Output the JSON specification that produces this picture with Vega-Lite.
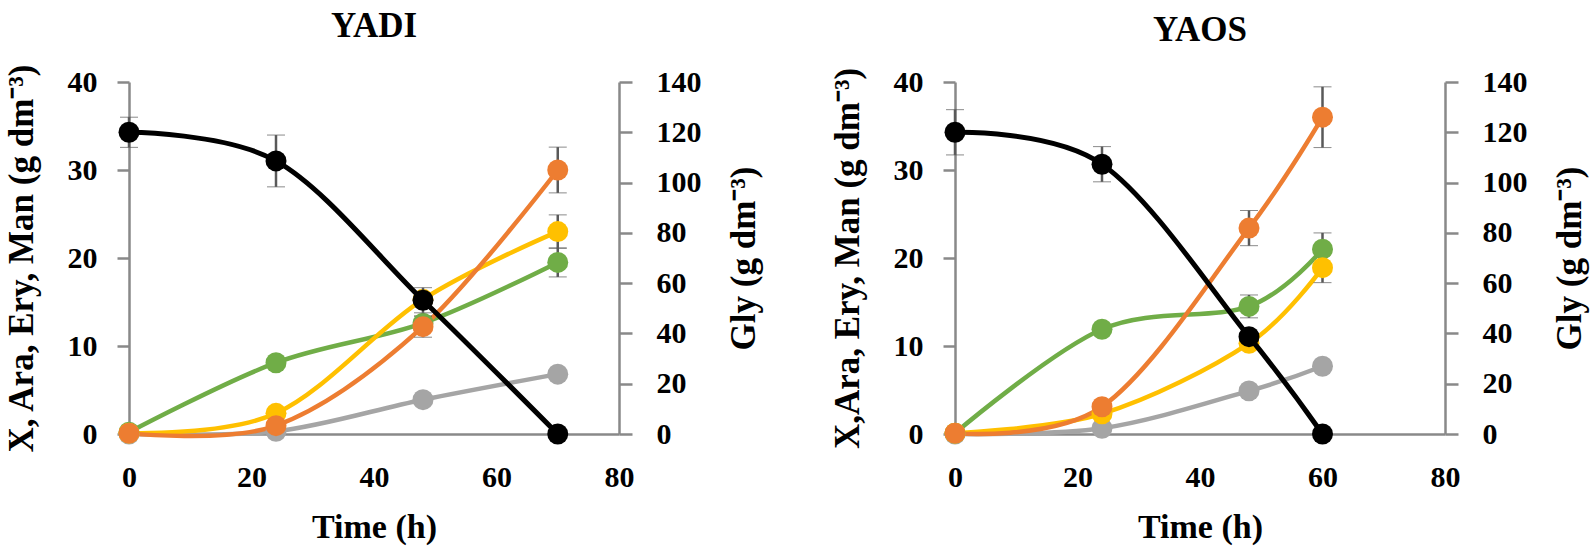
{
  "$schema": "https://vega.github.io/schema/vega-lite/v6.json",
  "autosize": {"type": "none"},
  "padding": {"left": 129, "top": 82, "right": 1465, "bottom": 467},
  "background": "white",
  "bounds": "flush",
  "spacing": 336,
  "data": {"values": [
    {"panel": "YADI", "series": "Ara", "t": 0, "v": 0, "err": 0},
    {"panel": "YADI", "series": "Ara", "t": 24, "v": 0.3, "err": 0},
    {"panel": "YADI", "series": "Ara", "t": 48, "v": 3.9, "err": 0},
    {"panel": "YADI", "series": "Ara", "t": 70, "v": 6.8, "err": 0},
    {"panel": "YADI", "series": "X", "t": 0, "v": 0.2, "err": 0},
    {"panel": "YADI", "series": "X", "t": 24, "v": 8.1, "err": 0},
    {"panel": "YADI", "series": "X", "t": 48, "v": 12.6, "err": 0.8},
    {"panel": "YADI", "series": "X", "t": 70, "v": 19.5, "err": 1.65},
    {"panel": "YADI", "series": "Man", "t": 0, "v": 0.1, "err": 0},
    {"panel": "YADI", "series": "Man", "t": 24, "v": 2.35, "err": 0},
    {"panel": "YADI", "series": "Man", "t": 48, "v": 15.3, "err": 0},
    {"panel": "YADI", "series": "Man", "t": 70, "v": 23.0, "err": 1.9},
    {"panel": "YADI", "series": "Ery", "t": 0, "v": 0.1, "err": 0},
    {"panel": "YADI", "series": "Ery", "t": 24, "v": 0.95, "err": 0},
    {"panel": "YADI", "series": "Ery", "t": 48, "v": 12.2, "err": 1.2},
    {"panel": "YADI", "series": "Ery", "t": 70, "v": 30.0, "err": 2.6},
    {"panel": "YADI", "series": "Gly", "t": 0, "v": 120, "err": 6},
    {"panel": "YADI", "series": "Gly", "t": 24, "v": 108.6, "err": 10.3},
    {"panel": "YADI", "series": "Gly", "t": 48, "v": 53.2, "err": 5},
    {"panel": "YADI", "series": "Gly", "t": 70, "v": 0, "err": 0},
    {"panel": "YAOS", "series": "Ara", "t": 0, "v": 0, "err": 0},
    {"panel": "YAOS", "series": "Ara", "t": 24, "v": 0.65, "err": 0},
    {"panel": "YAOS", "series": "Ara", "t": 48, "v": 4.9, "err": 0},
    {"panel": "YAOS", "series": "Ara", "t": 60, "v": 7.7, "err": 0},
    {"panel": "YAOS", "series": "X", "t": 0, "v": 0.1, "err": 0},
    {"panel": "YAOS", "series": "X", "t": 24, "v": 11.9, "err": 0},
    {"panel": "YAOS", "series": "X", "t": 48, "v": 14.5, "err": 1.3},
    {"panel": "YAOS", "series": "X", "t": 60, "v": 21.0, "err": 1.85},
    {"panel": "YAOS", "series": "Man", "t": 0, "v": 0.1, "err": 0},
    {"panel": "YAOS", "series": "Man", "t": 24, "v": 2.3, "err": 0},
    {"panel": "YAOS", "series": "Man", "t": 48, "v": 10.3, "err": 0},
    {"panel": "YAOS", "series": "Man", "t": 60, "v": 18.9, "err": 1.7},
    {"panel": "YAOS", "series": "Ery", "t": 0, "v": 0.1, "err": 0},
    {"panel": "YAOS", "series": "Ery", "t": 24, "v": 3.1, "err": 0},
    {"panel": "YAOS", "series": "Ery", "t": 48, "v": 23.4, "err": 2.0},
    {"panel": "YAOS", "series": "Ery", "t": 60, "v": 36.0, "err": 3.45},
    {"panel": "YAOS", "series": "Gly", "t": 0, "v": 120, "err": 9},
    {"panel": "YAOS", "series": "Gly", "t": 24, "v": 107.3, "err": 7},
    {"panel": "YAOS", "series": "Gly", "t": 48, "v": 38.7, "err": 0},
    {"panel": "YAOS", "series": "Gly", "t": 60, "v": 0, "err": 0}
  ]},
  "hconcat": [
    {
      "title": {"text": "YADI", "frame": "group", "fontSize": 35, "font": "Liberation Serif", "fontWeight": "bold", "offset": 19},
      "width": 490,
      "height": 352,
      "transform": [{"filter": "datum.panel === 'YADI'"}],
      "encoding": {
        "x": {"field": "t", "type": "quantitative", "scale": {"domain": [0, 80], "nice": false},
              "axis": {"values": [0, 20, 40, 60, 80], "ticks": false, "tickSize": 0, "labelFlush": false, "labelPadding": 28, "title": "Time (h)", "titlePadding": 18}}
      },
      "layer": [
        {
          "transform": [{"filter": "datum.series !== 'Gly'"}],
          "encoding": {
            "y": {"field": "v", "type": "quantitative", "scale": {"domain": [0, 40], "nice": false},
                  "axis": {"values": [0, 10, 20, 30, 40], "tickSize": 12, "labelPadding": 20, "title": "X, Ara, Ery, Man (g dm⁻³)", "titleFontSize": 35, "titlePadding": 28}}
          },
          "layer": [
            {"mark": {"type": "line", "interpolate": "cardinal", "strokeWidth": 4.5},
             "encoding": {"color": {"field": "series", "type": "nominal", "scale": {"domain": ["Ara", "X", "Man", "Ery", "Gly"], "range": ["#A5A5A5", "#70AD47", "#FFC000", "#ED7D31", "#000000"]}, "legend": null}}},
            {"transform": [{"filter": "datum.err > 0"}],
             "mark": {"type": "errorbar", "ticks": {"size": 18, "color": "#595959", "strokeWidth": 2.5}, "rule": {"color": "#595959", "strokeWidth": 2.5}},
             "encoding": {"yError": {"field": "err"}}},
            {"mark": {"type": "point", "filled": true, "size": 440, "opacity": 1},
             "encoding": {"color": {"field": "series", "type": "nominal", "scale": {"domain": ["Ara", "X", "Man", "Ery", "Gly"], "range": ["#A5A5A5", "#70AD47", "#FFC000", "#ED7D31", "#000000"]}, "legend": null}}}
          ]
        },
        {
          "transform": [{"filter": "datum.series === 'Gly'"}],
          "encoding": {
            "y": {"field": "v", "type": "quantitative", "scale": {"domain": [0, 140], "nice": false},
                  "axis": {"orient": "right", "values": [0, 20, 40, 60, 80, 100, 120, 140], "tickSize": 13, "labelPadding": 24, "title": "Gly (g dm⁻³)", "titleFontSize": 35, "titleAngle": 270, "titleBaseline": "top", "titlePadding": 25}}
          },
          "layer": [
            {"mark": {"type": "line", "interpolate": "cardinal", "strokeWidth": 5, "color": "#000000"}, "encoding": {}},
            {"transform": [{"filter": "datum.err > 0"}],
             "mark": {"type": "errorbar", "ticks": {"size": 18, "color": "#595959", "strokeWidth": 2.5}, "rule": {"color": "#595959", "strokeWidth": 2.5}},
             "encoding": {"yError": {"field": "err"}}},
            {"mark": {"type": "point", "filled": true, "size": 440, "opacity": 1, "color": "#000000"}, "encoding": {}}
          ]
        }
      ],
      "resolve": {"scale": {"y": "independent"}}
    },
    {
      "title": {"text": "YAOS", "frame": "group", "fontSize": 35, "font": "Liberation Serif", "fontWeight": "bold", "offset": 19},
      "width": 490,
      "height": 352,
      "transform": [{"filter": "datum.panel === 'YAOS'"}],
      "encoding": {
        "x": {"field": "t", "type": "quantitative", "scale": {"domain": [0, 80], "nice": false},
              "axis": {"values": [0, 20, 40, 60, 80], "ticks": false, "tickSize": 0, "labelFlush": false, "labelPadding": 28, "title": "Time (h)", "titlePadding": 18}}
      },
      "layer": [
        {
          "transform": [{"filter": "datum.series !== 'Gly'"}],
          "encoding": {
            "y": {"field": "v", "type": "quantitative", "scale": {"domain": [0, 40], "nice": false},
                  "axis": {"values": [0, 10, 20, 30, 40], "tickSize": 12, "labelPadding": 20, "title": "X,Ara, Ery, Man (g dm⁻³)", "titleFontSize": 35, "titlePadding": 28}}
          },
          "layer": [
            {"mark": {"type": "line", "interpolate": "cardinal", "strokeWidth": 4.5},
             "encoding": {"color": {"field": "series", "type": "nominal", "scale": {"domain": ["Ara", "X", "Man", "Ery", "Gly"], "range": ["#A5A5A5", "#70AD47", "#FFC000", "#ED7D31", "#000000"]}, "legend": null}}},
            {"transform": [{"filter": "datum.err > 0"}],
             "mark": {"type": "errorbar", "ticks": {"size": 18, "color": "#595959", "strokeWidth": 2.5}, "rule": {"color": "#595959", "strokeWidth": 2.5}},
             "encoding": {"yError": {"field": "err"}}},
            {"mark": {"type": "point", "filled": true, "size": 440, "opacity": 1},
             "encoding": {"color": {"field": "series", "type": "nominal", "scale": {"domain": ["Ara", "X", "Man", "Ery", "Gly"], "range": ["#A5A5A5", "#70AD47", "#FFC000", "#ED7D31", "#000000"]}, "legend": null}}}
          ]
        },
        {
          "transform": [{"filter": "datum.series === 'Gly'"}],
          "encoding": {
            "y": {"field": "v", "type": "quantitative", "scale": {"domain": [0, 140], "nice": false},
                  "axis": {"orient": "right", "values": [0, 20, 40, 60, 80, 100, 120, 140], "tickSize": 13, "labelPadding": 24, "title": "Gly (g dm⁻³)", "titleFontSize": 35, "titleAngle": 270, "titleBaseline": "top", "titlePadding": 25}}
          },
          "layer": [
            {"mark": {"type": "line", "interpolate": "cardinal", "strokeWidth": 5, "color": "#000000"}, "encoding": {}},
            {"transform": [{"filter": "datum.err > 0"}],
             "mark": {"type": "errorbar", "ticks": {"size": 18, "color": "#595959", "strokeWidth": 2.5}, "rule": {"color": "#595959", "strokeWidth": 2.5}},
             "encoding": {"yError": {"field": "err"}}},
            {"mark": {"type": "point", "filled": true, "size": 440, "opacity": 1, "color": "#000000"}, "encoding": {}}
          ]
        }
      ],
      "resolve": {"scale": {"y": "independent"}}
    }
  ],
  "config": {
    "view": {"stroke": null},
    "axis": {
      "grid": false,
      "domainColor": "#898989", "domainWidth": 2.5,
      "tickColor": "#898989", "tickWidth": 2.5,
      "labelFont": "Liberation Serif", "labelFontWeight": "bold", "labelFontSize": 30, "labelColor": "#000000",
      "titleFont": "Liberation Serif", "titleFontWeight": "bold", "titleFontSize": 34, "titleColor": "#000000"
    }
  }
}
